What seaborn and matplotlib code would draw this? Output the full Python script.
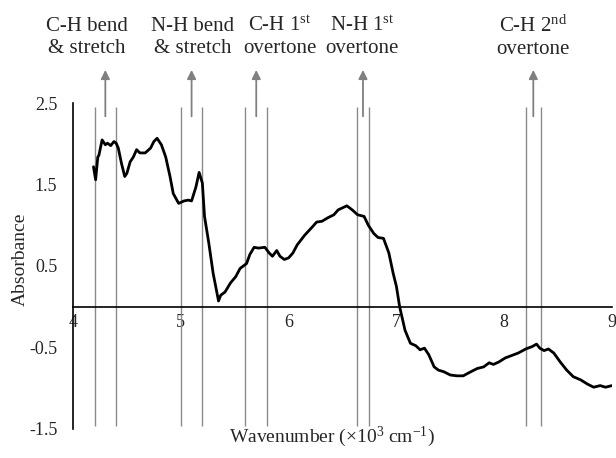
import matplotlib
matplotlib.use("Agg")
import matplotlib.pyplot as plt
from matplotlib.ticker import MultipleLocator
import seaborn as sns
import pandas as pd

# ---- data ----
wavenumber = [4.19, 4.21, 4.23, 4.24, 4.27, 4.30, 4.32, 4.35, 4.38, 4.40, 4.42, 4.45,
              4.48, 4.50, 4.53, 4.56, 4.59, 4.62, 4.67, 4.72, 4.75, 4.78, 4.82, 4.86,
              4.90, 4.93, 4.98, 5.03, 5.07, 5.10, 5.14, 5.17, 5.20, 5.22, 5.26, 5.30,
              5.35, 5.37, 5.41, 5.46, 5.51, 5.55, 5.61, 5.64, 5.68, 5.72, 5.78, 5.82,
              5.85, 5.89, 5.92, 5.96, 6.00, 6.04, 6.08, 6.15, 6.22, 6.26, 6.31, 6.36,
              6.42, 6.46, 6.54, 6.59, 6.64, 6.70, 6.74, 6.79, 6.83, 6.88, 6.93, 6.97,
              7.00, 7.03, 7.08, 7.13, 7.18, 7.22, 7.26, 7.30, 7.35, 7.39, 7.44, 7.50,
              7.56, 7.62, 7.69, 7.75, 7.81, 7.86, 7.90, 7.95, 8.01, 8.07, 8.13, 8.20,
              8.26, 8.30, 8.33, 8.37, 8.41, 8.46, 8.52, 8.58, 8.64, 8.71, 8.77, 8.83,
              8.89, 8.94, 9.00]
absorbance = [1.72, 1.56, 1.84, 1.86, 2.05, 1.99, 2.01, 1.98, 2.03, 2.01, 1.95, 1.76,
              1.60, 1.64, 1.78, 1.84, 1.93, 1.89, 1.89, 1.95, 2.03, 2.07, 1.99, 1.84,
              1.60, 1.39, 1.27, 1.30, 1.31, 1.30, 1.47, 1.65, 1.52, 1.11, 0.78, 0.41,
              0.07, 0.14, 0.18, 0.29, 0.37, 0.47, 0.53, 0.64, 0.73, 0.72, 0.73, 0.66,
              0.62, 0.69, 0.62, 0.58, 0.60, 0.66, 0.76, 0.88, 0.98, 1.04, 1.05, 1.09,
              1.13, 1.19, 1.24, 1.19, 1.13, 1.11, 1.00, 0.90, 0.85, 0.84, 0.66, 0.41,
              0.25, 0.00, -0.29, -0.45, -0.48, -0.53, -0.51, -0.59, -0.74, -0.78, -0.80, -0.84,
              -0.85, -0.85, -0.80, -0.76, -0.74, -0.69, -0.71, -0.68, -0.63, -0.60, -0.57, -0.52,
              -0.49, -0.46, -0.51, -0.54, -0.52, -0.57, -0.68, -0.78, -0.86, -0.90, -0.95, -0.99,
              -0.97, -0.99, -0.97]

band_edges = [4.20, 4.40, 5.00, 5.20, 5.60, 5.80, 6.63, 6.75, 8.20, 8.34]
band_centers = [4.30, 5.10, 5.70, 6.69, 8.27]
band_labels = ["C-H bend\n& stretch",
               "N-H bend\n& stretch",
               "C-H 1$^{\\mathrm{st}}$\novertone",
               "N-H 1$^{\\mathrm{st}}$\novertone",
               "C-H 2$^{\\mathrm{nd}}$\novertone"]
label_x = [4.13, 5.11, 5.92, 6.68, 8.265]

x_ticks = [4, 5, 6, 7, 8, 9]
y_ticks = [-1.5, -0.5, 0.5, 1.5, 2.5]

# ---- style ----
sns.set_style("white")
plt.rcParams["font.family"] = ["Liberation Serif", "DejaVu Serif"]
plt.rcParams["mathtext.fontset"] = "custom"
plt.rcParams["mathtext.rm"] = "Liberation Serif"
plt.rcParams["mathtext.it"] = "Liberation Serif:italic"

fig = plt.figure(figsize=(6.16, 4.58), dpi=100)
ax = fig.add_axes([73 / 616, (458 - 428.7) / 458, 539 / 616, 325.4 / 458])

df = pd.DataFrame({"wavenumber": wavenumber, "absorbance": absorbance})
sns.lineplot(data=df, x="wavenumber", y="absorbance", ax=ax, color="black",
             linewidth=2.0, sort=False, zorder=3)

ax.vlines(band_edges, -1.47, 2.46, colors="#8a8a8a", linewidth=1.0, zorder=2)

for xc in band_centers:
    ax.annotate("", xy=(xc, 2.91), xytext=(xc, 2.34),
                arrowprops=dict(arrowstyle="-|>", color="#808080", lw=1.3,
                                mutation_scale=13, shrinkA=0, shrinkB=0),
                annotation_clip=False)

for xl, lab in zip(label_x, band_labels):
    ax.text(xl, 3.31, lab, ha="center", va="center", fontsize=15,
            linespacing=1.2, clip_on=False)

ax.set_xlim(4, 9)
ax.set_ylim(-1.5, 2.5)
ax.set_xticks(x_ticks)
ax.set_xticklabels([str(t) for t in x_ticks])
ax.set_yticks(y_ticks)
ax.set_yticklabels([str(t) for t in y_ticks])
ax.xaxis.set_minor_locator(MultipleLocator(0.2))

for s in ["top", "right"]:
    ax.spines[s].set_visible(False)
ax.spines["bottom"].set_position(("data", 0))
ax.spines["left"].set_color("black")
ax.spines["bottom"].set_color("black")
ax.spines["left"].set_linewidth(1.2)
ax.spines["bottom"].set_linewidth(1.2)

ax.tick_params(axis="x", which="major", direction="inout", length=7, width=1.1,
               labelsize=13, pad=2, color="black")
ax.tick_params(axis="x", which="minor", direction="in", length=3, width=1.0,
               color="black")
ax.tick_params(axis="y", which="major", direction="inout", length=8.5, width=1.1,
               labelsize=13, pad=7, color="black")
ax.tick_params(axis="y", which="minor", left=False)

ax.set_xlabel("")
ax.set_ylabel("")
fig.text(332 / 616, 1 - 437 / 458, "Wavenumber (×10$^{3}$ cm$^{-1}$)",
         ha="center", va="center", fontsize=14)
fig.text(20 / 616, 1 - 259 / 458, "Absorbance", ha="center", va="center",
         rotation=90, fontsize=14)

fig.savefig("out.png", dpi=100)
